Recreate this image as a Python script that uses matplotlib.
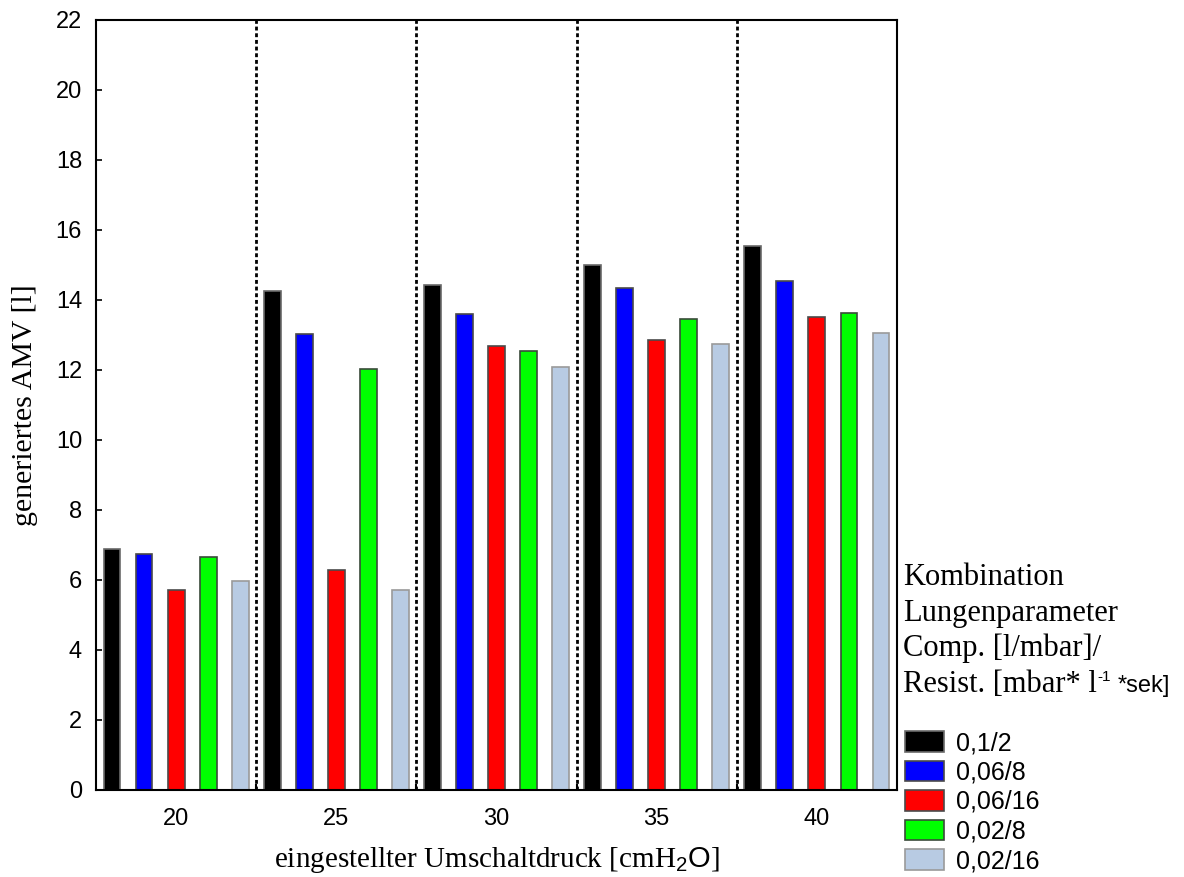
import matplotlib
matplotlib.use("Agg")
import matplotlib.pyplot as plt
from matplotlib.patches import Patch
import numpy as np

groups = ["20", "25", "30", "35", "40"]
series = ["0,1/2", "0,06/8", "0,06/16", "0,02/8", "0,02/16"]
v_01_2 = [6.88, 14.27, 14.43, 15.00, 15.55]
v_006_8 = [6.73, 13.03, 13.60, 14.35, 14.55]
v_006_16 = [5.71, 6.30, 12.70, 12.85, 13.51]
v_002_8 = [6.65, 12.03, 12.55, 13.47, 13.64]
v_002_16 = [5.97, 5.71, 12.10, 12.75, 13.07]
values = [v_01_2, v_006_8, v_006_16, v_002_8, v_002_16]

colors = ["#000000", "#0000ff", "#ff0000", "#00ff00", "#b8cbe3"]
edges = ["#6a6a6a", "#4a4a4a", "#4a4a4a", "#3a4a3a", "#9a9a9a"]

plt.rcParams['mathtext.fontset'] = 'custom'
plt.rcParams['mathtext.rm'] = 'Liberation Sans'
plt.rcParams['mathtext.it'] = 'Liberation Sans'

SANS = 'Liberation Sans'
SERIF = 'Liberation Serif'
W, H = 1184, 877

fig = plt.figure(figsize=(11.84, 8.77), dpi=100)
ax = fig.add_axes([96/W, 1-790/H, (897-96)/W, (790-20)/H])

x = np.arange(len(groups))
offsets = [-0.4, -0.2, 0.0, 0.2, 0.4]
for vals, off, c, e, lab in zip(values, offsets, colors, edges, series):
    ax.bar(x + off, vals, width=0.105, color=c, edgecolor=e, linewidth=1.2, label=lab, zorder=2)

for b in [0.5, 1.5, 2.5, 3.5]:
    ax.plot([b, b], [0, 22], color='black', linewidth=2.0, linestyle=(0, (1.4, 1.0)), zorder=3)

ax.set_xlim(-0.5, 4.5)
ax.set_ylim(0, 22)
ax.set_yticks(np.arange(0, 23, 2))
ax.set_xticks(x)
ax.set_xticklabels(groups)
ax.set_xticks([0.5, 1.5, 2.5, 3.5], minor=True)
ax.tick_params(axis='x', which='major', length=0, pad=13, labelsize=17)
ax.tick_params(axis='x', which='minor', direction='in', length=4, width=1.5)
ax.tick_params(axis='y', direction='in', length=4, width=1.2, pad=10, labelsize=17)
for lbl in ax.get_xticklabels() + ax.get_yticklabels():
    lbl.set_family(SANS)
for s in ax.spines.values():
    s.set_linewidth(1.5)

ax.set_ylabel("generiertes AMV [l]", family=SERIF, fontsize=21.5)
ax.yaxis.set_label_coords(-0.072, 0.5)
ax.set_xlabel(r"eingestellter Umschaltdruck [cmH$_{\mathrm{2}}\mathrm{O}$]", family=SERIF, fontsize=21)
ax.xaxis.set_label_coords(0.5, -0.071)

title_lines = ["Kombination", "Lungenparameter", "Comp. [l/mbar]/"]
baselines = [585, 621, 656]
for t, yy in zip(title_lines, baselines):
    fig.text(903/W, 1-yy/H, t, family=SERIF, fontsize=22, va='baseline', ha='left')

# last title line composed of serif/sans parts
renderer = fig.canvas.get_renderer()
t1 = fig.text(903/W, 1-692/H, "Resist. [mbar* l", family=SERIF, fontsize=22, va='baseline', ha='left')
bb = t1.get_window_extent(renderer)
t2 = fig.text((bb.x1 + 1)/W, 1-681/H, "-1", family=SANS, fontsize=11, va='baseline', ha='left')
bb2 = t2.get_window_extent(renderer)
fig.text((bb2.x1 + 6)/W, 1-692/H, "*sek]", family=SANS, fontsize=17, va='baseline', ha='left')

handles = [Patch(facecolor=c, edgecolor=e, linewidth=1.2) for c, e in zip(colors, edges)]
fig.legend(handles, series, loc='upper left', bbox_to_anchor=(905/W, 1-731/H),
           frameon=False, borderpad=0, borderaxespad=0, handlelength=1.55, handleheight=0.9,
           handletextpad=0.5, labelspacing=0.22, prop={'family': SANS, 'size': 18})

fig.savefig("out.png", dpi=100)
